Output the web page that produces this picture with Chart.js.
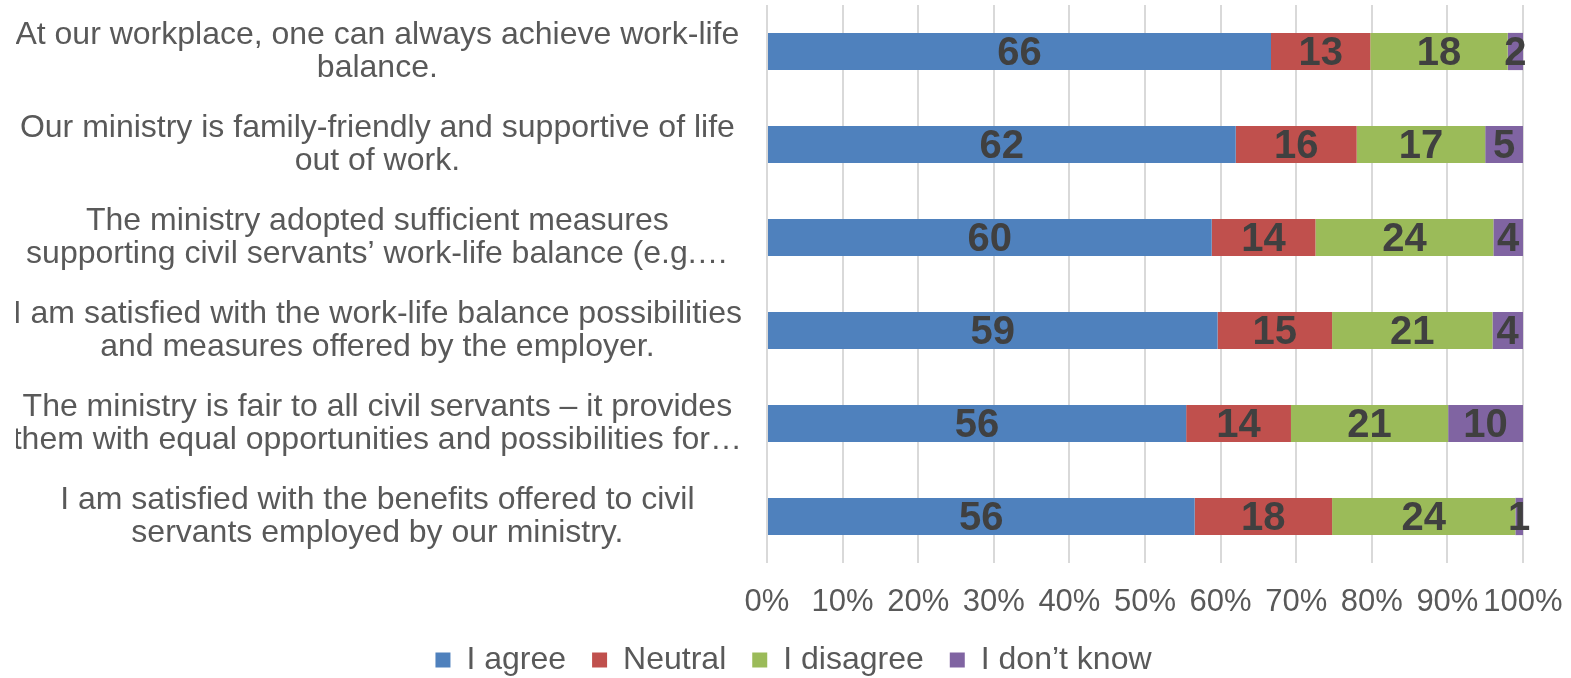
<!DOCTYPE html>
<html>
<head>
<meta charset="utf-8">
<script src="https://cdn.jsdelivr.net/npm/chart.js@4/dist/chart.umd.min.js"></script>
<style>
  html, body { margin: 0; padding: 0; background: #fff; }
  #wrap { width: 1571px; height: 678px; position: relative; }
</style>
</head>
<body>
<div id="wrap"><canvas id="balance"></canvas></div>
<script>
const categories = [
    ['At our workplace, one can always achieve work-life', 'balance.'],
    ['Our ministry is family-friendly and supportive of life', 'out of work.'],
    ['The ministry adopted sufficient measures', 'supporting civil servants\u2019 work-life balance (e.g.\u2026'],
    ['I am satisfied with the work-life balance possibilities', 'and measures offered by the employer.'],
    ['The ministry is fair to all civil servants \u2013 it provides', 'them with equal opportunities and possibilities for\u2026'],
    ['I am satisfied with the benefits offered to civil', 'servants employed by our ministry.']
];
const seriesNames = ['I agree', 'Neutral', 'I disagree', 'I don\u2019t know'];
const agree     = [66, 62, 60, 59, 56, 56];
const neutral   = [13, 16, 14, 15, 14, 18];
const disagree  = [18, 17, 24, 21, 21, 24];
const dontKnow  = [2, 5, 4, 4, 10, 1];
const xTicks    = [0, 10, 20, 30, 40, 50, 60, 70, 80, 90, 100];

const colors = ['#4f81bd', '#c0504d', '#9bbb59', '#8064a2'];
const FONT = '"Liberation Sans", Arial, sans-serif';

// each row is drawn as a 100% stack, labels keep the raw numbers
const rows = [agree, neutral, disagree, dontKnow];
const totals = agree.map((v, i) => rows.reduce((s, r) => s + r[i], 0));

// number written in the middle of every segment
const valueLabels = {
    id: 'valueLabels',
    afterDatasetsDraw(chart) {
        const ctx = chart.ctx;
        ctx.save();
        ctx.font = 'bold 40px ' + FONT;
        ctx.fillStyle = '#404040';
        ctx.textAlign = 'center';
        ctx.textBaseline = 'middle';
        chart.data.datasets.forEach((ds, i) => {
            chart.getDatasetMeta(i).data.forEach((bar, j) => {
                const c = bar.getCenterPoint();
                ctx.fillText(String(ds.counts[j]), c.x, c.y + 2);
            });
        });
        ctx.restore();
    }
};

const PAD_LEFT = 16;

const ctx = document.getElementById('balance').getContext('2d');
const chart = new Chart(ctx, {
    type: 'bar',
    data: {
        labels: categories,
        datasets: rows.map((r, k) => ({
            label: seriesNames[k],
            counts: r,
            data: r.map((v, i) => v / totals[i] * 100),
            backgroundColor: colors[k],
            borderWidth: 0,
            barPercentage: 0.4,
            categoryPercentage: 1
        }))
    },
    options: {
        indexAxis: 'y',
        responsive: true,
        maintainAspectRatio: false,
        animation: false,
        layout: { padding: { left: PAD_LEFT, right: 0, top: 5, bottom: 0 } },
        plugins: {
            tooltip: { enabled: false },
            legend: {
                position: 'bottom',
                maxHeight: 60,
                labels: {
                    boxWidth: 15,
                    boxHeight: 15,
                    padding: 26,
                    color: '#595959',
                    font: { family: FONT, size: 32 }
                }
            }
        },
        scales: {
            x: {
                stacked: true,
                min: 0,
                max: 100,
                afterBuildTicks: (scale) => {
                    scale.ticks = xTicks.map(v => ({ value: v }));
                },
                afterFit: (scale) => {
                    scale.height = 55;
                    scale.paddingLeft = 0;
                    scale.paddingRight = 48;
                },
                grid: {
                    color: '#d9d9d9',
                    lineWidth: 2,
                    drawTicks: true,
                    tickLength: 18,
                    tickColor: 'rgba(0,0,0,0)'
                },
                border: { display: false },
                ticks: {
                    autoSkip: false,
                    maxRotation: 0,
                    minRotation: 0,
                    padding: 3,
                    color: '#595959',
                    font: { family: FONT, size: 31 },
                    callback: (v) => v + '%'
                }
            },
            y: {
                stacked: true,
                afterFit: (scale) => {
                    scale.width = 767 - PAD_LEFT;
                    scale.paddingTop = 0;
                    scale.paddingBottom = 0;
                },
                grid: {
                    display: true,
                    drawOnChartArea: false,
                    drawTicks: true,
                    tickLength: 22,
                    tickColor: 'rgba(0,0,0,0)'
                },
                border: { display: false },
                ticks: {
                    crossAlign: 'center',
                    padding: 3,
                    color: '#595959',
                    font: { family: FONT, size: 32, lineHeight: 1.03 }
                }
            }
        }
    },
    plugins: [valueLabels]
});
</script>
</body>
</html>
